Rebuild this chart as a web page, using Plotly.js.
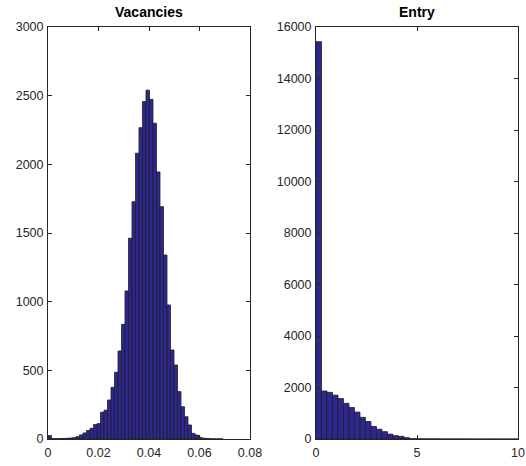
<!DOCTYPE html>
<html>
<head>
<meta charset="utf-8">
<script src="https://cdn.plot.ly/plotly-3.0.1.min.js"></script>
<style>
  html, body { margin: 0; padding: 0; background: #fff; }
  #chart { width: 526px; height: 466px; }
</style>
</head>
<body>
<div id="chart"></div>
<script>
// ---- Data ----
const panelTitles = ["Vacancies", "Entry"];

// Vacancies histogram: 50 bins
const vacBinStart = 0;
const vacBinWidth = 0.001386;
const vacCounts = [25, 3, 3, 4, 4, 5, 7, 10, 17, 30,
                   44, 62, 78, 105, 112, 195, 210, 284, 376, 486,
                   641, 835, 1078, 1462, 1728, 2081, 2267, 2457, 2540, 2474,
                   2299, 1945, 1692, 1340, 976, 648, 539, 345, 235, 162,
                   102, 41, 29, 12, 6, 4, 2, 1, 1, 1];

// Entry histogram
const entryBinStart = 0;
const entryBinWidth = 0.272;
const entryCounts = [15430, 1864, 1812, 1703, 1570, 1385, 1222, 1045, 841, 680,
                     490, 380, 285, 190, 129, 105, 52, 14, 8, 5,
                     4, 3, 2, 2, 1, 1, 1, 1, 0, 0,
                     0, 0, 0, 0, 0, 0, 0];

const vacXTicks = [0, 0.02, 0.04, 0.06, 0.08];
const vacYTicks = [0, 500, 1000, 1500, 2000, 2500, 3000];
const entryXTicks = [0, 5, 10];
const entryYTicks = [0, 2000, 4000, 6000, 8000, 10000, 12000, 14000, 16000];

// ---- Build bins ----
function centers(start, width, n) {
  const c = [];
  for (let i = 0; i < n; i++) c.push(start + (i + 0.5) * width);
  return c;
}

const barColor = 'rgb(46,40,142)';
const edgeColor = 'rgb(30,30,40)';

const traces = [
  {
    type: 'bar',
    x: centers(vacBinStart, vacBinWidth, vacCounts.length),
    y: vacCounts,
    width: vacBinWidth,
    marker: { color: barColor, line: { color: edgeColor, width: 0.8 } },
    xaxis: 'x', yaxis: 'y',
    hoverinfo: 'x+y'
  },
  {
    type: 'bar',
    x: centers(entryBinStart, entryBinWidth, entryCounts.length),
    y: entryCounts,
    width: entryBinWidth,
    marker: { color: barColor, line: { color: edgeColor, width: 0.8 } },
    xaxis: 'x2', yaxis: 'y2',
    hoverinfo: 'x+y'
  }
];

const W = 526, H = 466;
const axisFont = { family: 'Liberation Sans, Arial, sans-serif', size: 12.5, color: '#262626' };

function axisCommon() {
  return {
    showline: true, linecolor: '#262626', linewidth: 1,
    mirror: 'ticks', ticks: 'inside', ticklen: 4, tickcolor: '#262626', tickwidth: 1,
    showgrid: false, zeroline: false, tickfont: axisFont, fixedrange: true
  };
}

const yTop = 1 - 27 / H, yBot = 1 - 439 / H;

const layout = {
  width: W, height: H,
  margin: { l: 0, r: 0, t: 0, b: 0 },
  paper_bgcolor: '#ffffff', plot_bgcolor: '#ffffff',
  showlegend: false,
  bargap: 0,
  xaxis: Object.assign(axisCommon(), {
    domain: [48 / W, 250 / W], range: [0, 0.08],
    tickvals: vacXTicks, ticktext: vacXTicks.map(String), anchor: 'y',
    ticklabelstandoff: 2
  }),
  yaxis: Object.assign(axisCommon(), {
    domain: [yBot, yTop], range: [0, 3000],
    tickvals: vacYTicks, ticktext: vacYTicks.map(String), anchor: 'x',
    ticklabelstandoff: 1
  }),
  xaxis2: Object.assign(axisCommon(), {
    domain: [316 / W, 518 / W], range: [0, 10],
    tickvals: entryXTicks, ticktext: entryXTicks.map(String), anchor: 'y2',
    ticklabelstandoff: 2
  }),
  yaxis2: Object.assign(axisCommon(), {
    domain: [yBot, yTop], range: [0, 16000],
    tickvals: entryYTicks, ticktext: entryYTicks.map(String), anchor: 'x2',
    ticklabelstandoff: 1
  }),
  annotations: [
    { text: '<b>' + panelTitles[0] + '</b>', xref: 'paper', yref: 'paper',
      x: 149 / W, y: 1 - 12 / H, xanchor: 'center', yanchor: 'middle', showarrow: false,
      font: { family: 'Liberation Sans, Arial, sans-serif', size: 14, color: '#000' } },
    { text: '<b>' + panelTitles[1] + '</b>', xref: 'paper', yref: 'paper',
      x: 417 / W, y: 1 - 12 / H, xanchor: 'center', yanchor: 'middle', showarrow: false,
      font: { family: 'Liberation Sans, Arial, sans-serif', size: 14, color: '#000' } }
  ]
};

Plotly.newPlot('chart', traces, layout, { displayModeBar: false, staticPlot: true });
</script>
</body>
</html>
